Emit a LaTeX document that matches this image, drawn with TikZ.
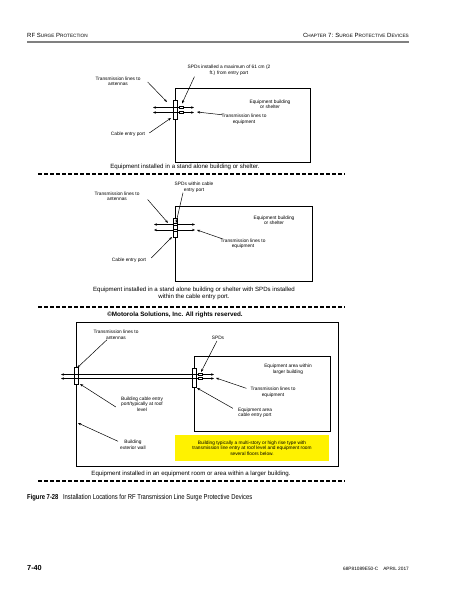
\documentclass[tikz,border=0pt]{standalone}
\usepackage{fontspec}
\setmainfont{Liberation Sans}
\newfontfamily\narrowsf[FakeStretch=0.82]{Liberation Sans}
\usetikzlibrary{arrows.meta, positioning}

\newcommand{\smallcap}[1]{{\fontsize{4.7}{5}\selectfont #1}}

\begin{document}
\begin{tikzpicture}[
  x=1pt, y=-1pt,
  lbl/.style     = {font=\fontsize{4.8}{5.5}\selectfont, align=center, inner sep=0pt},
  caption/.style = {font=\fontsize{6.1}{6.4}\selectfont, align=center, inner sep=0pt},
  bldg/.style    = {draw, line width=0.7pt, anchor=north west, inner sep=0pt},
  port/.style    = {draw, fill=white, line width=0.5pt, minimum width=4pt, inner sep=0pt},
  spd/.style     = {draw, fill=white, line width=0.35pt, minimum width=4pt,
                    minimum height=2.2pt, inner sep=0pt},
  tline/.style   = {{Stealth[length=3pt,width=2.4pt]}-{Stealth[length=3pt,width=2.4pt]},
                    line width=0.5pt},
  ptr/.style     = {-{Stealth[length=3.2pt,width=2.4pt]}, line width=0.5pt},
  sep/.style     = {line width=1.3pt, dash pattern=on 4pt off 2pt}
]
\useasboundingbox[fill=white] (0,0) rectangle (463,599);

% Page header
\node[anchor=base west, inner sep=0pt, font=\fontsize{6}{7}\selectfont] (hdleft) at (27,38)
  {RF S\smallcap{URGE} P\smallcap{ROTECTION}};
\node[anchor=base east, inner sep=0pt, font=\fontsize{6}{7}\selectfont] (hdright) at (409,38)
  {C\smallcap{HAPTER} 7: S\smallcap{URGE} P\smallcap{ROTECTIVE} D\smallcap{EVICES}};
\draw[line width=1.4pt, gray] (27,42) -- (409,42);

% Panel 1: stand alone building
\node[bldg, minimum width=135pt, minimum height=74pt] (bld1) at (175,88) {};
\node[port, minimum height=19pt] (port1) at (175,110) {};
\draw[tline] (153,107.5) -- (194,107.5);
\draw[tline] (153,112.5) -- (194,112.5);
\node[spd] (spd1a) at (181,107.5) {};
\node[spd] (spd1b) at (181,112.5) {};

\node[lbl] (spdtxt1) at (229,70.5) {SPDs installed a maximum of 61 cm (2\\ft.) from entry port};
\node[lbl] (ant1) at (118,81.5) {Transmission lines to\\antennas};
\node[lbl] (eqb1) at (270,104.5) {Equipment building\\or shelter};
\node[lbl] (teq1) at (244,119.5) {Transmission lines to\\equipment};
\node[lbl] (cep1) at (128,134) {Cable entry port};
\node[caption] (cap1) at (185,167) {Equipment installed in a stand alone building or shelter.};

\coordinate (anttip1) at (167,102);
\coordinate (spdtip1) at (182,103.5);
\coordinate (teqtip1) at (197,112);
\coordinate (ceptip1) at (171,118);

% Arrows labels -> lines
\draw[ptr] ([shift={(7,0.5)}]ant1.east) -- (anttip1);
\draw[ptr] ([shift={(7,1)}]spdtxt1.south west) -- (spdtip1);
\draw[ptr] ([shift={(1,0.5)}]teq1.north west) -- (teqtip1);
\draw[ptr] ([shift={(4,-1)}]cep1.east) -- (ceptip1);

\draw[sep] (38,174) -- (345,174);

% Panel 2: SPDs within the cable entry port
\node[bldg, minimum width=137pt, minimum height=75pt] (bld2) at (175,206) {};
\node[port, minimum height=19pt] (port2) at (175.5,227.5) {};
\draw[tline] (154,224.5) -- (195,224.5);
\draw[tline] (154,230) -- (195,230);
\node[spd] (spd2a) at (175.5,224.5) {};
\node[spd] (spd2b) at (175.5,230) {};

\node[lbl] (spdtxt2) at (194,187.5) {SPDs within cable\\entry port};
\node[lbl] (ant2) at (117,196.5) {Transmission lines to\\antennas};
\node[lbl] (eqb2) at (274,220.5) {Equipment building\\or shelter};
\node[lbl] (teq2) at (243,244) {Transmission lines to\\equipment};
\node[lbl] (cep2) at (129,260) {Cable entry port};
\node[caption] (cap2) at (194,293.5) {Equipment installed in a stand alone building or shelter with SPDs installed\\within the cable entry port.};

\coordinate (anttip2) at (168,223);
\coordinate (spdtip2) at (176,223);
\coordinate (teqtip2) at (197,230);
\coordinate (ceptip2) at (172,237);

\draw[ptr] ([shift={(8,3)}]ant2.east) -- (anttip2);
\draw[ptr] ([shift={(-11,0)}]spdtxt2.south) -- (spdtip2);
\draw[ptr] ([shift={(2,0)}]teq2.north west) -- (teqtip2);
\draw[ptr] ([shift={(5,-2)}]cep2.east) -- (ceptip2);

\draw[sep] (38,307) -- (345,307);

% Panel 3: equipment room within a larger building
\node[font=\bfseries\fontsize{6.3}{7}\selectfont, inner sep=0pt] (copy) at (175,315)
  {\symbol{"00A9}Motorola Solutions, Inc. All rights reserved.};
\node[bldg, minimum width=262pt, minimum height=144pt] (bld3) at (76,322) {};
\node[bldg, minimum width=136pt, minimum height=75pt] (area3) at (194,356) {};
\node[port, minimum height=17pt] (port3a) at (76,375.5) {};
\node[port, minimum height=19pt] (port3b) at (194,377.5) {};
\draw[tline] (61,374.5) -- (214,374.5);
\draw[tline] (61,378.5) -- (214,378.5);
\node[spd] (spd3a) at (200.5,374.5) {};
\node[spd] (spd3b) at (200.5,378.5) {};

\node[lbl] (ant3) at (116,335) {Transmission lines to\\antennas};
\node[lbl] (spdtxt3) at (218,338) {SPDs};
\node[lbl] (eqa3) at (288,369.5) {Equipment area within\\larger building};
\node[lbl] (teq3) at (273,392.5) {Transmission lines to\\equipment};
\node[lbl] (bce3) at (142,404) {Building cable entry\\port/typically at roof\\level};
\node[lbl] (eacep3) at (255,413) {Equipment area\\cable entry port};
\node[lbl] (bew3) at (133,445) {Building\\exterior wall};
\node[lbl, fill=yellow, minimum width=154pt, minimum height=26pt] (note3) at (252,448)
  {Building typically a multi-story or high rise type with\\transmission line entry at roof level and equipment room\\several floors below.};
\node[caption] (cap3) at (191,474) {Equipment installed in an equipment room or area within a larger building.};

\coordinate (anttip3) at (77,368);
\coordinate (spdtip3) at (201,372);
\coordinate (teqtip3) at (216,378);
\coordinate (bcetip3) at (80,384);
\coordinate (eatip3) at (197,388);
\coordinate (bewtip3) at (78,423);

\draw[ptr] ([shift={(-9,0)}]ant3.south) -- (anttip3);
\draw[ptr] ([shift={(-1,1)}]spdtxt3.south) -- (spdtip3);
\draw[ptr] ([shift={(-4,1)}]teq3.north west) -- (teqtip3);
\draw[ptr] ([shift={(-5,3)}]bce3.west) -- (bcetip3);
\draw[ptr] ([shift={(-5,0.5)}]eacep3.north west) -- (eatip3);
\draw[ptr] ([shift={(-2,1)}]bew3.north west) -- (bewtip3);

\draw[sep] (38,481) -- (345,481);

% Figure caption and footer
\node[anchor=base west, inner sep=0pt, font=\narrowsf\fontsize{7.15}{8}\selectfont] (figcap) at (27,499)
  {\textbf{Figure 7-28}\hspace{3pt} Installation Locations for RF Transmission Line Surge Protective Devices};
\node[anchor=base west, inner sep=0pt, font=\bfseries\fontsize{7.3}{8}\selectfont] (pgno) at (27,570) {7-40};
\node[anchor=base east, inner sep=0pt, font=\fontsize{4.75}{5}\selectfont] (docno) at (409,570)
  {68P81089E50-C\hspace{5pt}A\smallcap{PRIL} 2017};
\end{tikzpicture}
\end{document}
